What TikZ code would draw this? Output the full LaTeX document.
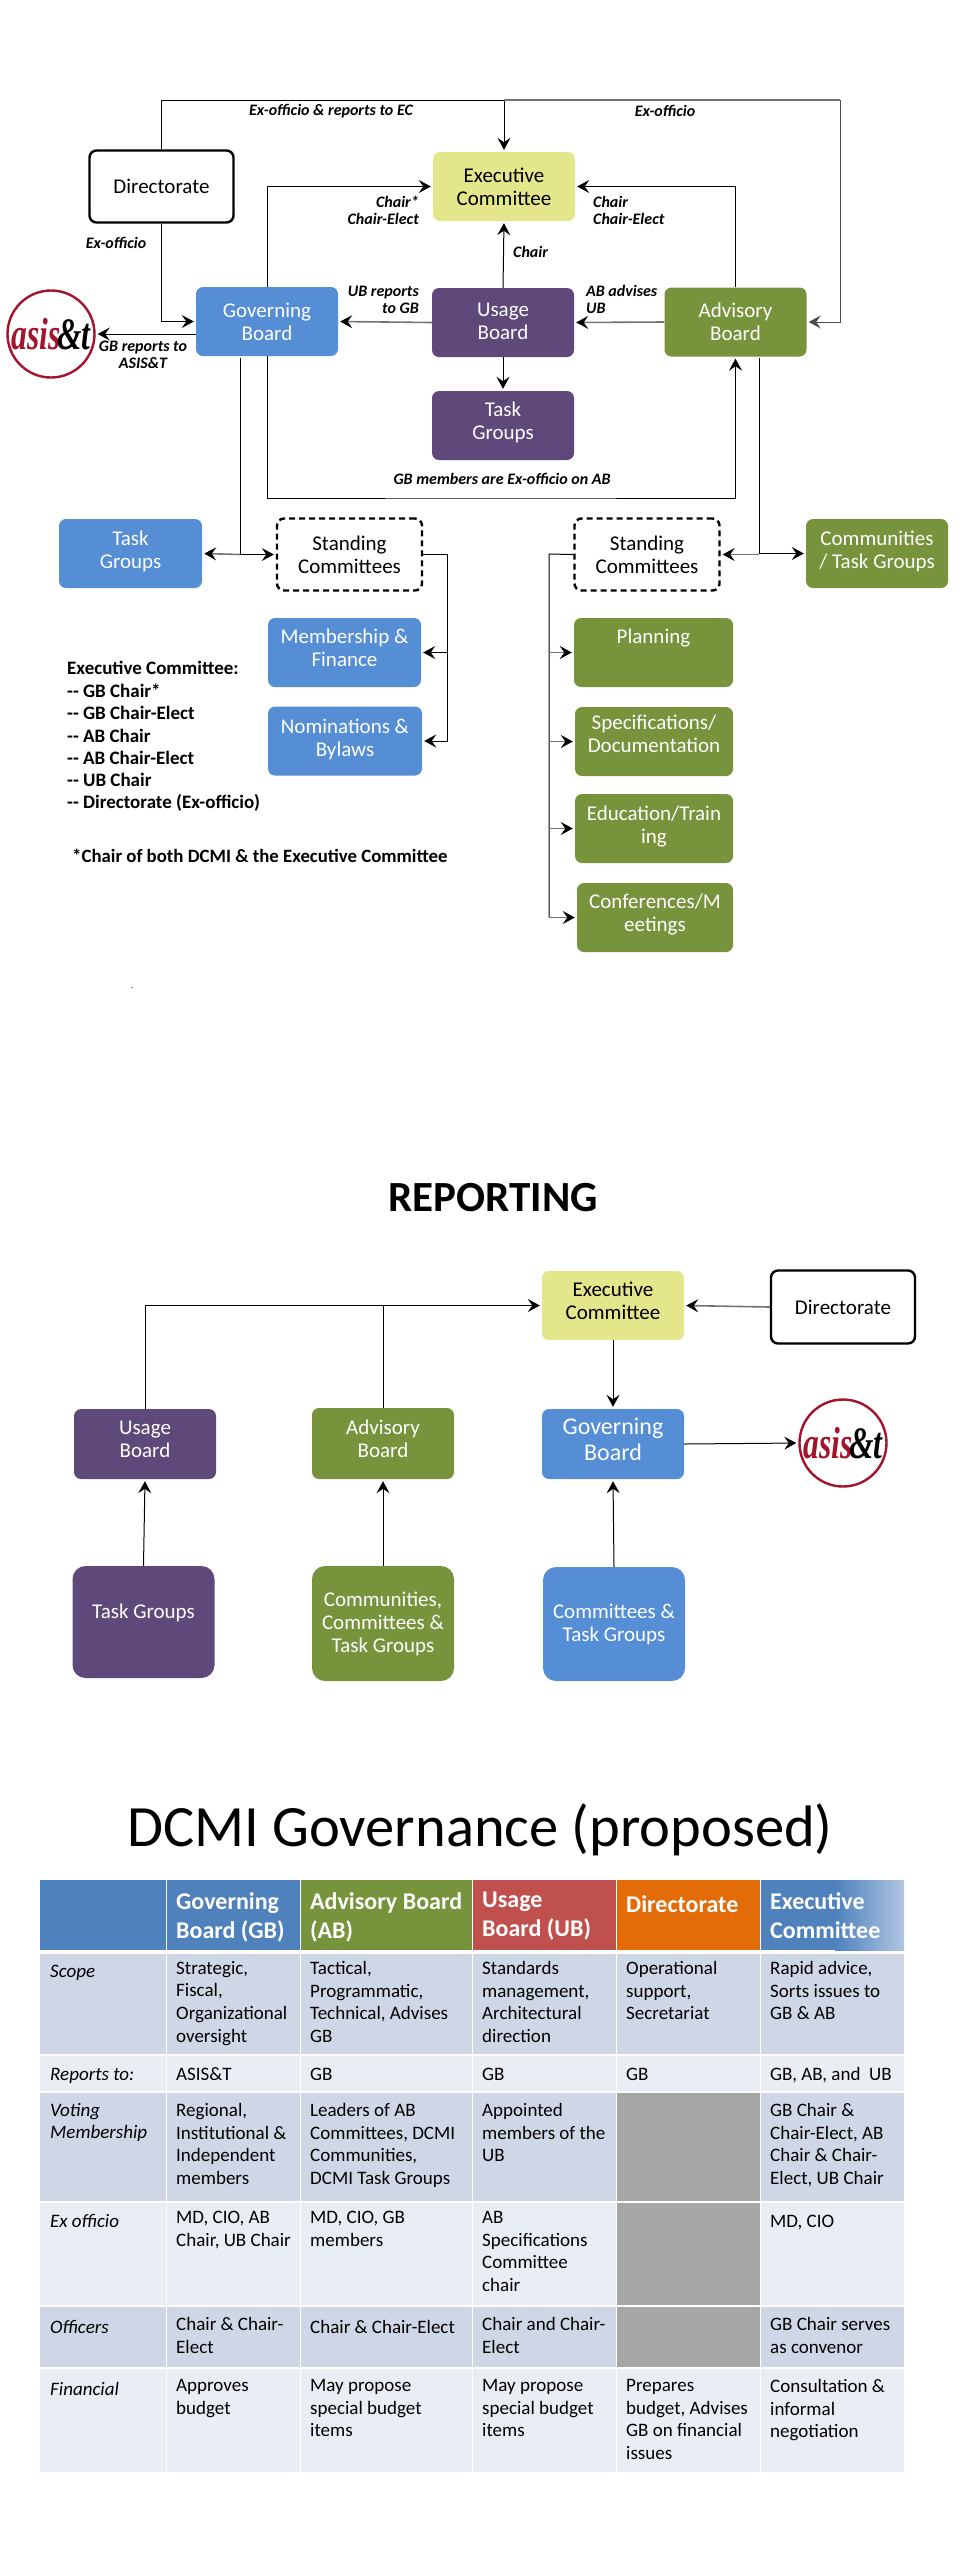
\documentclass[tikz,border=0pt]{standalone}
\usepackage{fontspec}
\usepackage{graphicx}
\setmainfont{Carlito}
\newfontfamily\logofont{Liberation Serif}
\usetikzlibrary{arrows.meta,calc}
\definecolor{gbblue}{HTML}{558ED5}
\definecolor{ubpurple}{HTML}{5F497A}
\definecolor{abgreen}{HTML}{77933C}
\definecolor{ecyellow}{HTML}{E3E68B}
\definecolor{hdblue}{HTML}{4F81BD}
\definecolor{hdred}{HTML}{C0504D}
\definecolor{hdorange}{HTML}{E36C09}
\definecolor{banddark}{HTML}{CFD7E7}
\definecolor{bandlight}{HTML}{E9EDF4}
\definecolor{asisred}{HTML}{A3132B}
\tikzset{>={Stealth[length=12pt,width=13pt,inset=4.5pt]}}
\tikzset{
  boxbase/.style={rounded corners=7pt,align=center,inner sep=0pt,minimum width=142pt,minimum height=69pt,font=\fontsize{21}{23}\selectfont},
  gbbox/.style={boxbase,fill=gbblue,text=white},
  ubbox/.style={boxbase,fill=ubpurple,text=white},
  abbox/.style={boxbase,fill=abgreen,text=white},
  ecbox/.style={boxbase,fill=ecyellow,text=black},
  dirbox/.style={boxbase,draw=black,line width=2.4pt,fill=white,minimum width=144pt,minimum height=72pt},
  stdbox/.style={boxbase,draw=black,line width=2.4pt,fill=white,dash pattern=on 6pt off 4pt,minimum width=145pt,minimum height=72pt},
  logo/.style={circle,draw=asisred,line width=2.4pt,fill=white,inner sep=0pt,minimum size=87pt},
  conn/.style={->,line width=1pt,shorten >=2pt},
  plainconn/.style={line width=1pt},
  gconn/.style={-{Stealth[length=12pt,width=13pt,inset=4.5pt,black]},line width=1.6pt,draw=black!55,shorten >=2pt},
  lab/.style={font=\fontsize{16}{17}\selectfont\bfseries\itshape,inner sep=0pt,align=center},
  note/.style={font=\fontsize{19}{22.5}\selectfont\bfseries,inner sep=0pt,align=left,anchor=west},
  hd/.style={font=\fontsize{24}{29}\selectfont\bfseries,text=white,inner sep=0pt,align=left,anchor=north west,execute at begin node=\strut},
  cell/.style={font=\fontsize{19}{22.6}\selectfont,inner sep=0pt,align=left,anchor=north west,execute at begin node=\strut},
  rowhd/.style={cell,font=\fontsize{19}{22.6}\selectfont\itshape},
}
\newcommand{\asislogo}{{\logofont\fontsize{45}{45}\selectfont\bfseries\itshape\scalebox{.7}[1]{\textcolor{asisred}{asis}\kern-4pt\textcolor{black}{\&t}}}}
\begin{document}
\begin{tikzpicture}[x=1pt,y=-1pt]
  \useasboundingbox (0,0) rectangle (960,2552);

  % top chart
  \node[dirbox] (dir) at (161.5,186.5) {Directorate};
  \node[ecbox] (ec) at (504,186.5) {Executive\\Committee};
  \node[gbbox] (gb) at (267,321.5) {Governing\\Board};
  \node[ubbox] (ub) at (503,322.5) {Usage\\Board\\[-21pt]};
  \node[abbox] (ab) at (735.5,322) {Advisory\\Board};
  \node[ubbox] (tgu) at (503,425.5) {Task\\Groups\\[-13pt]};
  \node[logo] (asis) at (51,334) {\asislogo};
  \node[gbbox,minimum width=143pt] (tgb) at (130.5,553.5) {Task\\Groups\\[-16pt]};
  \node[stdbox] (stdl) at (349.5,554.5) {Standing\\Committees};
  \node[stdbox] (stdr) at (647,554.5) {Standing\\Committees};
  \node[abbox] (comm) at (877,553.5) {Communities\\/ Task Groups\\[-16pt]};
  \node[gbbox,minimum width=153pt] (memb) at (344.5,652.5) {Membership \&\\Finance\\[-14pt]};
  \node[gbbox,minimum width=154pt] (nom) at (345,741) {Nominations \&\\Bylaws\\[-17pt]};
  \node[abbox,minimum width=159pt] (plan) at (653.5,652.5) {Planning\\~\\[-14pt]};
  \node[abbox,minimum width=158pt] (spec) at (654,741.5) {Specifications/\\Documentation\\[-7pt]};
  \node[abbox,minimum width=158pt] (edu) at (654,828.5) {Education/Train\\ing\\[-15pt]};
  \node[abbox,minimum width=156pt] (conf) at (655,917.5) {Conferences/M\\eetings\\[-13pt]};

  \coordinate (topr) at (840,100);
  \coordinate (loopb) at (500,498);
  \coordinate (gbl) at (240,358);
  \coordinate (abl) at (759,358);
  \coordinate (brl) at (447,554);
  \coordinate (brr) at (549,554);

  \draw[conn] (dir.north) -- (dir.north |- topr) -| (ec.north);
  \draw[line width=1.6pt,draw=black!55] (ec.north |- topr) -- (topr);
  \draw[conn,draw=black!70] (topr) |- (ab.east);
  \draw[conn] (dir.south) |- (gb.west);
  \draw[conn] (gb.north) |- (ec.west);
  \draw[conn] (ab.north) |- (ec.east);
  \draw[conn] (ub.north) -- (ec.south);
  \draw[gconn] (ub.west) -- (gb.east);
  \draw[gconn] (ab.west) -- (ub.east);
  \draw[conn] (ub.south) -- (tgu.north);
  \draw[conn] (gb.south) |- (loopb) -| (ab.south);
  \draw[conn] (gb.west |- asis.east) -- (asis.east);
  \draw[conn] (gbl) |- (stdl.west);
  \draw[gconn] (gbl |- stdl.west) -- (tgb.east);
  \draw[conn] (abl) |- (comm.west);
  \draw[gconn] (abl |- stdr.east) -- (stdr.east);
  \draw[plainconn] (stdl.east) -| (brl);
  \draw[conn] (brl) |- (memb.east);
  \draw[conn] (brl) |- (nom.east);
  \draw[plainconn] (stdr.west) -- (brr) -- (brr |- conf.west);
  \foreach \t in {plan,spec,edu,conf}
    \draw[gconn] (brr |- \t.west) -- (\t.west);

  \node[lab] (l1) at (331,111) {Ex-officio \& reports to EC};
  \node[lab] (l2) at (665,111) {Ex-officio};
  \node[lab] (l3) at (116,243) {Ex-officio};
  \node[lab,align=right,anchor=east] (l4) at (419,210.5) {Chair*\\Chair-Elect};
  \node[lab,align=left,anchor=west] (l5) at (593,210.5) {Chair\\Chair-Elect};
  \node[lab,anchor=west] (l6) at (513,252) {Chair};
  \node[lab,align=right,anchor=east] (l7) at (419,299.5) {UB reports\\to GB};
  \node[lab,align=left,anchor=west] (l8) at (586,299.5) {AB advises\\UB};
  \node[lab] (l9) at (143,355) {GB reports to\\ASIS\&T};
  \node[lab] (l10) at (502,479) {GB members are Ex-officio on AB};

  \node[note] (n0) at (67,668) {Executive Committee:};
  \node[note] (n1) at (67,691) {{-}{-} GB Chair*};
  \node[note] (n2) at (67,713) {{-}{-} GB Chair-Elect};
  \node[note] (n3) at (67,736) {{-}{-} AB Chair};
  \node[note] (n4) at (67,758) {{-}{-} AB Chair-Elect};
  \node[note] (n5) at (67,780) {{-}{-} UB Chair};
  \node[note] (n6) at (67,803) {{-}{-} Directorate (Ex-officio)};
  \node[note,font=\fontsize{18.8}{22.5}\selectfont\bfseries] (n7) at (72,856) {*Chair of both DCMI \& the Executive Committee};
  \node[font=\small,inner sep=0pt] (dot) at (132,988) {.};

  % reporting chart
  \node[font=\fontsize{43}{43}\selectfont\bfseries,inner sep=0pt] (rep) at (493,1198) {REPORTING};
  \node[ecbox] (ec2) at (613,1305.5) {Executive\\Committee\\[-13pt]};
  \node[dirbox,minimum height=73pt] (dir2) at (843,1307) {Directorate};
  \node[ubbox,minimum height=70pt] (ub2) at (145,1444) {Usage\\Board\\[-13pt]};
  \node[abbox,minimum height=71pt] (ab2) at (383,1443.5) {Advisory\\Board\\[-13pt]};
  \node[gbbox,minimum height=70pt,font=\fontsize{24}{26}\selectfont] (gb2) at (613,1444) {Governing\\Board\\[-16pt]};
  \node[logo] (asis2) at (843,1443) {\asislogo};
  \node[ubbox,rounded corners=13pt,minimum height=112pt] (tg2) at (143.5,1622) {Task Groups\\[-2pt]};
  \node[abbox,rounded corners=13pt,minimum height=115pt] (cm2) at (383,1623.5) {Communities,\\Committees \&\\Task Groups};
  \node[gbbox,rounded corners=13pt,minimum height=114pt] (ct2) at (614,1624) {Committees \&\\Task Groups};

  \draw[conn] (ub2.north) |- (ec2.west);
  \draw[plainconn] (ab2.north) -- (ab2.north |- ec2.west);
  \draw[gconn] (dir2.west) -- (ec2.east);
  \draw[conn] (ec2.south) -- (gb2.north);
  \draw[conn] (gb2.east) -- (asis2.west);
  \draw[conn] (tg2.north) -- (ub2.south);
  \draw[conn] (cm2.north) -- (ab2.south);
  \draw[conn] (ct2.north) -- (gb2.south);

  % table
  \node[font=\fontsize{58.5}{59}\selectfont,inner sep=0pt,anchor=base] (title) at (480,1846) {DCMI Governance (proposed)};

  \fill[hdblue] (40,1880) rectangle (300,1950);
  \fill[abgreen] (300,1880) rectangle (472,1950);
  \fill[hdred] (472,1880) rectangle (616,1950);
  \fill[hdorange] (616,1880) rectangle (760,1950);
  \fill[hdblue] (760,1880) rectangle (835,1950);
  \shade[left color=hdblue,right color=hdblue!45!white] (835,1880) rectangle (904,1950);
  \foreach \a/\b/\c in {1954/2055/banddark,2055/2092/bandlight,2092/2202/banddark,2202/2306/bandlight,2306/2368/banddark,2368/2472/bandlight}
    \fill[\c] (40,\a) rectangle (904,\b);
  \fill[black!35] (616,2092) rectangle (760,2368);
  \foreach \y in {2055,2092,2202,2306,2368}
    \draw[white,line width=2pt] (40,\y) -- (904,\y);
  \foreach \x in {166,300,472,616,760}
    \draw[white,line width=1pt] (\x,1880) -- (\x,2472);

  \node[hd] (h1) at (176,1892) {Governing\\Board (GB)};
  \node[hd] (h2) at (310,1892) {Advisory Board\\(AB)};
  \node[hd] (h3) at (482,1892) {Usage\\Board (UB)};
  \node[hd] (h4) at (626,1892) {Directorate};
  \node[hd] (h5) at (770,1892) {Executive\\Committee};

  \node[rowhd] (r1) at (50,1961) {Scope};
  \node[cell] (c11) at (176,1961) {Strategic,\\Fiscal,\\Organizational\\oversight};
  \node[cell] (c12) at (310,1961) {Tactical,\\Programmatic,\\Technical, Advises\\GB};
  \node[cell] (c13) at (482,1961) {Standards\\management,\\Architectural\\direction};
  \node[cell] (c14) at (626,1961) {Operational\\support,\\Secretariat};
  \node[cell] (c15) at (770,1961) {Rapid advice,\\Sorts issues to\\GB \& AB};

  \node[rowhd] (r2) at (50,2064) {Reports to:};
  \node[cell] (c21) at (176,2064) {ASIS\&T};
  \node[cell] (c22) at (310,2064) {GB};
  \node[cell] (c23) at (482,2064) {GB};
  \node[cell] (c24) at (626,2064) {GB};
  \node[cell] (c25) at (770,2064) {GB, AB, and\ \ UB};

  \node[rowhd] (r3) at (50,2103) {Voting\\Membership};
  \node[cell] (c31) at (176,2103) {Regional,\\Institutional \&\\Independent\\members};
  \node[cell] (c32) at (310,2103) {Leaders of AB\\Committees, DCMI\\Communities,\\DCMI Task Groups};
  \node[cell] (c33) at (482,2103) {Appointed\\members of the\\UB};
  \node[cell] (c35) at (770,2103) {GB Chair \&\\Chair-Elect, AB\\Chair \& Chair-\\Elect, UB Chair};

  \node[rowhd] (r4) at (50,2211) {Ex officio};
  \node[cell] (c41) at (176,2211) {MD, CIO, AB\\Chair, UB Chair};
  \node[cell] (c42) at (310,2211) {MD, CIO, GB\\members};
  \node[cell] (c43) at (482,2211) {AB\\Specifications\\Committee\\chair};
  \node[cell] (c45) at (770,2211) {MD, CIO};

  \node[rowhd] (r5) at (50,2317) {Officers};
  \node[cell] (c51) at (176,2317) {Chair \& Chair-\\Elect};
  \node[cell] (c52) at (310,2317) {Chair \& Chair-Elect};
  \node[cell] (c53) at (482,2317) {Chair and Chair-\\Elect};
  \node[cell] (c55) at (770,2317) {GB Chair serves\\as convenor};

  \node[rowhd] (r6) at (50,2379) {Financial};
  \node[cell] (c61) at (176,2379) {Approves\\budget};
  \node[cell] (c62) at (310,2379) {May propose\\special budget\\items};
  \node[cell] (c63) at (482,2379) {May propose\\special budget\\items};
  \node[cell] (c64) at (626,2379) {Prepares\\budget, Advises\\GB on financial\\issues};
  \node[cell] (c65) at (770,2379) {Consultation \&\\informal\\negotiation};
\end{tikzpicture}
\end{document}
